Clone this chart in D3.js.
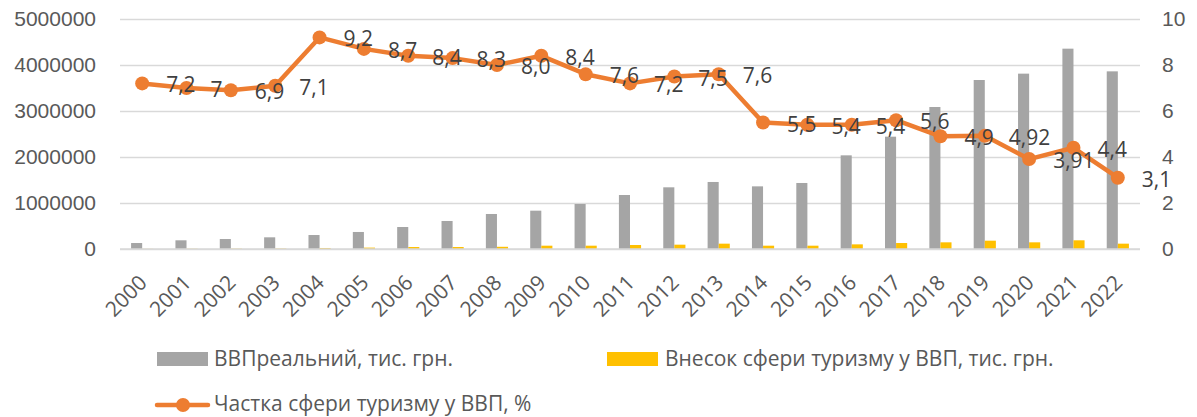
<!DOCTYPE html>
<html>
<head>
<meta charset="utf-8">
<script src="https://cdn.jsdelivr.net/npm/d3@7"></script>
<style>
  body { margin: 0; background: #fff; }
  svg { display: block; font-family: 'Open Sans', 'Noto Sans', sans-serif; }
</style>
</head>
<body>
<svg id="chart"></svg>
<script>
const years = ['2000', '2001', '2002', '2003', '2004', '2005', '2006', '2007', '2008', '2009', '2010', '2011',
  '2012', '2013', '2014', '2015', '2016', '2017', '2018', '2019', '2020', '2021', '2022'];
const gdpReal = [130000, 189000, 217000, 254000, 304000, 370000, 478000, 609000, 761000, 833000, 978000, 1174000,
  1341000, 1457000, 1362000, 1435000, 2036000, 2442000, 3087000, 3674000, 3812000, 4355000, 3862000];
const tourismGdp = [3000, 5000, 7000, 9000, 22000, 30000, 43000, 43000, 48000, 72000, 72000, 87000,
  94000, 116000, 72000, 72000, 101000, 130000, 145000, 181000, 145000, 189000, 116000];
const tourismShare = [7.2, 7, 6.9, 7.1, 9.2, 8.7, 8.4, 8.3, 8.0, 8.4, 7.6, 7.2,
  7.5, 7.6, 5.5, 5.4, 5.4, 5.6, 4.9, 4.92, 3.91, 4.4, 3.1];
const shareLabels = ['7,2', '7', '6,9', '7,1', '9,2', '8,7', '8,4', '8,3', '8,0', '8,4', '7,6', '7,2',
  '7,5', '7,6', '5,5', '5,4', '5,4', '5,6', '4,9', '4,92', '3,91', '4,4', '3,1'];
const leftTicks = [0, 1000000, 2000000, 3000000, 4000000, 5000000];
const rightTicks = [0, 2, 4, 6, 8, 10];
const seriesNames = ['ВВПреальний, тис. грн.', 'Внесок сфери туризму у ВВП, тис. грн.', 'Частка сфери туризму у ВВП, %'];

const width = 1197, height = 417;
const margin = { top: 19, right: 57, bottom: 168, left: 120 };
const colors = { gdp: '#a5a5a5', tourism: '#ffc000', share: '#ed7d31', grid: '#d9d9d9', text: '#595959', label: '#404040' };
const fontSize = '21px';

const svg = d3.select('#chart')
  .attr('width', width)
  .attr('height', height);

const x = d3.scaleBand()
  .domain(years)
  .range([margin.left, width - margin.right]);

const yLeft = d3.scaleLinear()
  .domain([0, 5000000])
  .range([height - margin.bottom, margin.top]);

const yRight = d3.scaleLinear()
  .domain([0, 10])
  .range([height - margin.bottom, margin.top]);

const barW = x.bandwidth() * 0.25;

// gridlines
svg.append('g')
  .attr('transform', `translate(${margin.left},0)`)
  .call(d3.axisLeft(yLeft).tickValues(leftTicks).tickSize(-(width - margin.left - margin.right)).tickFormat(''))
  .call(g => g.select('.domain').remove())
  .call(g => g.selectAll('line').attr('stroke', colors.grid).attr('stroke-width', 1.5));

// left axis labels
svg.append('g')
  .attr('transform', `translate(${margin.left},0)`)
  .call(d3.axisLeft(yLeft).tickValues(leftTicks).tickSize(0).tickPadding(24).tickFormat(d3.format('d')))
  .call(g => g.select('.domain').remove())
  .call(g => g.selectAll('text').attr('fill', colors.text).style('font-size', fontSize));

// right axis labels
svg.append('g')
  .attr('transform', `translate(${width - margin.right},0)`)
  .call(d3.axisRight(yRight).tickValues(rightTicks).tickSize(0).tickPadding(22))
  .call(g => g.select('.domain').remove())
  .call(g => g.selectAll('text').attr('fill', colors.text).style('font-size', fontSize));

// bars
svg.append('g').selectAll('rect')
  .data(gdpReal)
  .join('rect')
  .attr('x', (d, i) => x(years[i]) + x.bandwidth() / 2 - barW)
  .attr('y', d => yLeft(d))
  .attr('width', barW)
  .attr('height', d => yLeft(0) - yLeft(d))
  .attr('fill', colors.gdp);

svg.append('g').selectAll('rect')
  .data(tourismGdp)
  .join('rect')
  .attr('x', (d, i) => x(years[i]) + x.bandwidth() / 2)
  .attr('y', d => yLeft(d))
  .attr('width', barW)
  .attr('height', d => yLeft(0) - yLeft(d))
  .attr('fill', colors.tourism);

// x axis
svg.append('line')
  .attr('x1', margin.left)
  .attr('x2', width - margin.right)
  .attr('y1', yLeft(0))
  .attr('y2', yLeft(0))
  .attr('stroke', colors.grid)
  .attr('stroke-width', 1.5);

svg.append('g').selectAll('text')
  .data(years)
  .join('text')
  .attr('transform', d => `translate(${x(d) + x.bandwidth() / 2 + 6},${yLeft(0) + 35}) rotate(-45)`)
  .attr('text-anchor', 'end')
  .attr('fill', colors.text)
  .style('font-size', fontSize)
  .text(d => d);

// line + markers
const cx = (d, i) => x(years[i]) + x.bandwidth() / 2;

const line = d3.line()
  .x(cx)
  .y(d => yRight(d));

svg.append('path')
  .datum(tourismShare)
  .attr('d', line)
  .attr('fill', 'none')
  .attr('stroke', colors.share)
  .attr('stroke-width', 4.5)
  .attr('stroke-linejoin', 'round');

svg.append('g').selectAll('circle')
  .data(tourismShare)
  .join('circle')
  .attr('cx', cx)
  .attr('cy', d => yRight(d))
  .attr('r', 7)
  .attr('fill', colors.share);

svg.append('g').selectAll('text')
  .data(tourismShare)
  .join('text')
  .attr('x', (d, i) => cx(d, i) + 24)
  .attr('y', d => yRight(d) + 9)
  .attr('fill', colors.label)
  .style('font-size', fontSize)
  .text((d, i) => shareLabels[i]);

// legend
const legend = svg.append('g');

legend.append('rect')
  .attr('x', 157).attr('y', 352).attr('width', 51).attr('height', 14)
  .attr('fill', colors.gdp);
legend.append('text')
  .attr('x', 214).attr('y', 366)
  .attr('fill', colors.text).style('font-size', fontSize)
  .text(seriesNames[0]);

legend.append('rect')
  .attr('x', 607).attr('y', 352).attr('width', 51).attr('height', 14)
  .attr('fill', colors.tourism);
legend.append('text')
  .attr('x', 665).attr('y', 366)
  .attr('fill', colors.text).style('font-size', fontSize)
  .text(seriesNames[1]);

legend.append('line')
  .attr('x1', 157).attr('x2', 208).attr('y1', 405).attr('y2', 405)
  .attr('stroke', colors.share).attr('stroke-width', 4.5).attr('stroke-linecap', 'round');
legend.append('circle')
  .attr('cx', 183).attr('cy', 405).attr('r', 7)
  .attr('fill', colors.share);
legend.append('text')
  .attr('x', 214).attr('y', 411)
  .attr('fill', colors.text).style('font-size', fontSize)
  .text(seriesNames[2]);
</script>
</body>
</html>
